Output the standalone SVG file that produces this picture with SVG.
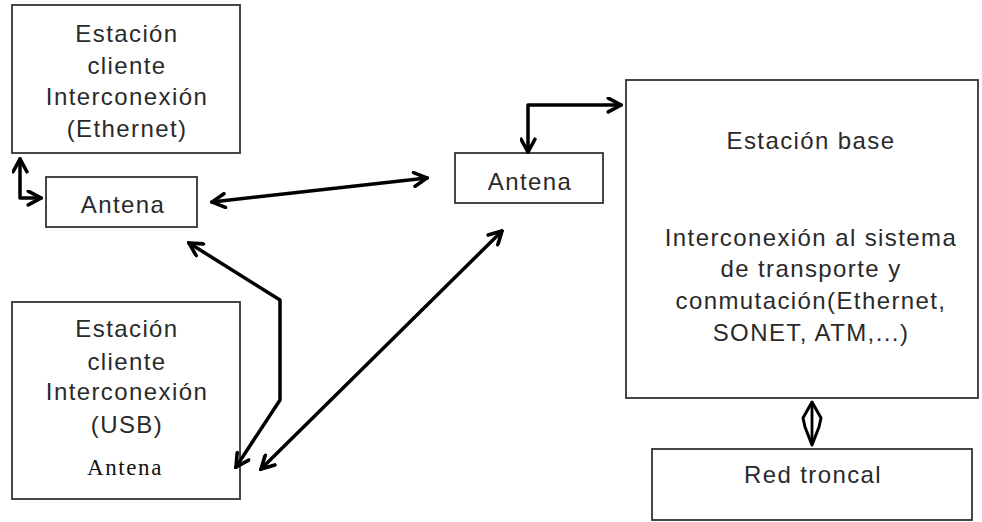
<svg xmlns="http://www.w3.org/2000/svg" width="982" height="522" viewBox="0 0 982 522">
<defs>
<style>
.box{fill:#fff;stroke:#333;stroke-width:1.8}
.t{font-family:"Liberation Sans",Arial,sans-serif;font-size:24px;fill:#2a2a2a;text-anchor:middle;letter-spacing:1.4px}
.ts{font-family:"Liberation Serif","Times New Roman",serif;font-size:23px;fill:#111;text-anchor:middle;letter-spacing:1.6px}
.c{fill:none;stroke:#000;stroke-width:3.5;stroke-linejoin:round;stroke-linecap:round;marker-start:url(#ah);marker-end:url(#ah)}
</style>
<marker id="ah" viewBox="0 0 16 16" refX="14" refY="8" markerWidth="17" markerHeight="17" markerUnits="userSpaceOnUse" orient="auto-start-reverse">
<path d="M2,1.5 L14,8 L2,14.5" fill="none" stroke="#000" stroke-width="3.4" stroke-linejoin="miter" stroke-linecap="round"/>
</marker>
</defs>
<rect width="982" height="522" fill="#fff"/>

<g id="cliente-ethernet">
<rect class="box" x="12" y="5" width="228" height="148"/>
<text class="t" x="127" y="42">Estación</text>
<text class="t" x="127" y="74">cliente</text>
<text class="t" x="127" y="105">Interconexión</text>
<text class="t" x="127" y="137">(Ethernet)</text>
</g>

<g id="antena-cliente">
<rect class="box" x="46" y="177" width="151" height="50"/>
<text class="t" x="123" y="213">Antena</text>
</g>

<g id="cliente-usb">
<rect class="box" x="12" y="302" width="228" height="197"/>
<text class="t" x="127" y="337">Estación</text>
<text class="t" x="127" y="370">cliente</text>
<text class="t" x="127" y="400">Interconexión</text>
<text class="t" x="127" y="433">(USB)</text>
<text class="ts" x="125" y="475">Antena</text>
</g>

<g id="antena-base">
<rect class="box" x="455" y="153" width="148" height="50"/>
<text class="t" x="530" y="190">Antena</text>
</g>

<g id="estacion-base">
<rect class="box" x="626" y="80" width="352" height="318"/>
<text class="t" x="811" y="149">Estación base</text>
<text class="t" x="811" y="246">Interconexión al sistema</text>
<text class="t" x="811" y="277">de transporte y</text>
<text class="t" x="811" y="309">conmutación(Ethernet,</text>
<text class="t" x="811" y="341">SONET, ATM,...)</text>
</g>

<g id="red-troncal">
<rect class="box" x="652" y="449" width="320" height="71"/>
<text class="t" x="813" y="483">Red troncal</text>
</g>

<g id="connectors">
<path class="c" d="M20,159 L20,198 L41,198"/>
<path class="c" d="M212,202 L427,178"/>
<path class="c" d="M189,243 L280,300 L280,400 L236,467"/>
<path class="c" d="M261,469 L502,231"/>
<path class="c" d="M528,152 L528,105 L621,105"/>
<path d="M812,403 L812,444" stroke="#000" stroke-width="2.8" fill="none"/>
<path d="M812,402 L803,418 L805,427 L812,445 L819,427 L821,418 Z" fill="none" stroke="#000" stroke-width="3" stroke-linejoin="round"/>
</g>
</svg>
